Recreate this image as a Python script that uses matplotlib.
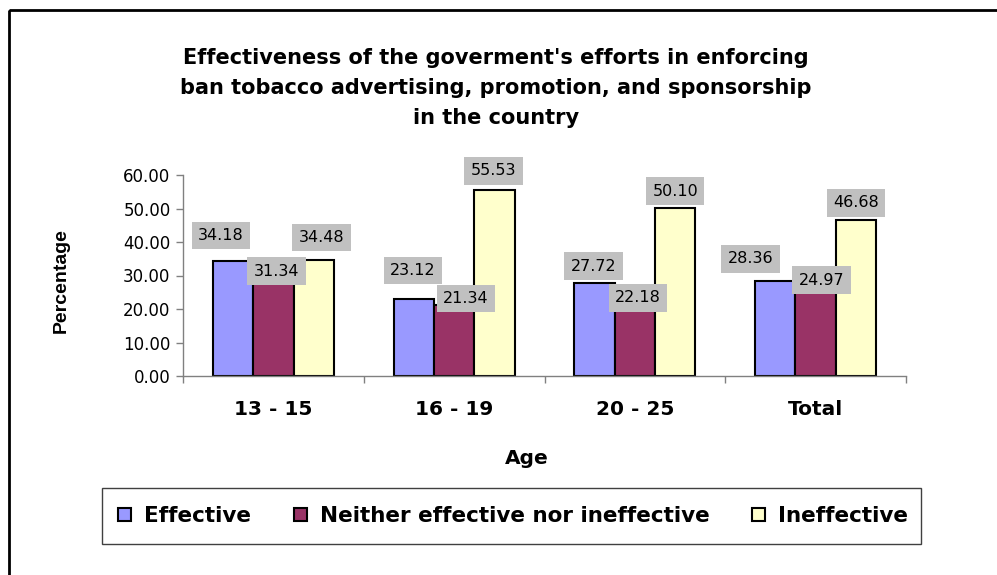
import matplotlib
matplotlib.use("Agg")
import matplotlib.pyplot as plt
from matplotlib.patches import Rectangle, Patch
from matplotlib.ticker import FixedLocator, FormatStrFormatter
import numpy as np

# Data
categories = ["13 - 15", "16 - 19", "20 - 25", "Total"]
series_names = ["Effective", "Neither effective nor ineffective", "Ineffective"]
effective = [34.18, 23.12, 27.72, 28.36]
neither = [31.34, 21.34, 22.18, 24.97]
ineffective = [34.48, 55.53, 50.10, 46.68]
y_ticks = [0, 10, 20, 30, 40, 50, 60]

title = ("Effectiveness of the goverment's efforts in enforcing\n"
         "ban tobacco advertising, promotion, and sponsorship\n"
         "in the country")

colors = ["#9999FF", "#993366", "#FFFFCC"]
label_bg = "#C0C0C0"

# label placement (pixels, relative to the top centre of each bar)
label_offsets = [
    [(-12, 26), (-1, 28), (-1, 17), (-25, 22)],
    [(3, 0), (12, 6), (3, 4), (6, 12)],
    [(8, 23), (-1, 19), (0, 17), (0, 17)],
]

W, H = 997, 575
fig = plt.figure(figsize=(W / 100, H / 100), dpi=100)
fig.patch.set_facecolor("white")

def fx(px):
    return px / W

def fy(py):
    return 1 - py / H

ax = fig.add_axes([fx(183), fy(376), fx(906) - fx(183), fy(175) - fy(376)])

x = np.arange(len(categories))
width = 0.223
all_series = [effective, neither, ineffective]
for i, (vals, col) in enumerate(zip(all_series, colors)):
    xs = x + (i - 1) * width
    ax.bar(xs, vals, width, color=col, edgecolor="black", linewidth=1.5, zorder=2)
    for j, (bx, v) in enumerate(zip(xs, vals)):
        dx, dy = label_offsets[i][j]
        ax.annotate(f"{v:.2f}", xy=(bx, v), xytext=(dx, dy), textcoords="offset pixels",
                    ha="center", va="center", fontsize=11.5, family="DejaVu Sans",
                    color="black", zorder=5,
                    bbox=dict(boxstyle="square,pad=0.4", fc=label_bg, ec="none"))

ax.set_xlim(-0.5, len(categories) - 0.5)
ax.set_ylim(0, 60)
ax.set_yticks(y_ticks)
ax.yaxis.set_major_formatter(FormatStrFormatter("%.2f"))
ax.set_xticks(x)
ax.set_xticklabels(categories, fontsize=14.5, fontweight="bold", family="DejaVu Sans")
ax.xaxis.set_minor_locator(FixedLocator(np.arange(len(categories) + 1) - 0.5))
ax.tick_params(axis="x", which="major", length=0, pad=17)
ax.tick_params(axis="x", which="minor", length=5, width=1, color="#808080", direction="out")
ax.tick_params(axis="y", length=5, width=1, color="#808080", direction="out",
               labelsize=12, pad=4)
for lbl in ax.get_yticklabels():
    lbl.set_family("DejaVu Sans")

for s in ["top", "right"]:
    ax.spines[s].set_visible(False)
for s in ["left", "bottom"]:
    ax.spines[s].set_color("#808080")
    ax.spines[s].set_linewidth(1)

# axis titles
fig.text(fx(61), fy(281), "Percentage", rotation=90, ha="center", va="center",
         fontsize=14, fontweight="bold",
         family=["Liberation Sans Narrow", "Liberation Sans", "DejaVu Sans"])
fig.text(fx(527), fy(459), "Age", ha="center", va="center",
         fontsize=14.5, fontweight="bold", family="DejaVu Sans")

# chart title
fig.text(fx(496), fy(88), title, ha="center", va="center", fontsize=15,
         fontweight="bold", family="DejaVu Sans", linespacing=1.62)

# outer chart frame
fig.add_artist(Rectangle((fx(9), fy(10)), 1.2, -1.2, transform=fig.transFigure,
                         fill=False, edgecolor="black", linewidth=2, clip_on=False))

# legend box and entries
fig.add_artist(Rectangle((fx(102), fy(544)), fx(921) - fx(102), fy(488) - fy(544),
                         transform=fig.transFigure, fill=False,
                         edgecolor="#404040", linewidth=1))
handles = [Patch(facecolor=c, edgecolor="black", linewidth=1.5) for c in colors]
leg = fig.legend(handles, series_names, loc="center", bbox_to_anchor=(fx(513), fy(516)),
                 ncol=3, frameon=False, handlelength=0.6, handleheight=0.6,
                 handletextpad=0.6, columnspacing=2.0,
                 prop={"family": "DejaVu Sans", "weight": "bold", "size": 15.5})

fig.savefig("out.png", dpi=100, facecolor="white")
